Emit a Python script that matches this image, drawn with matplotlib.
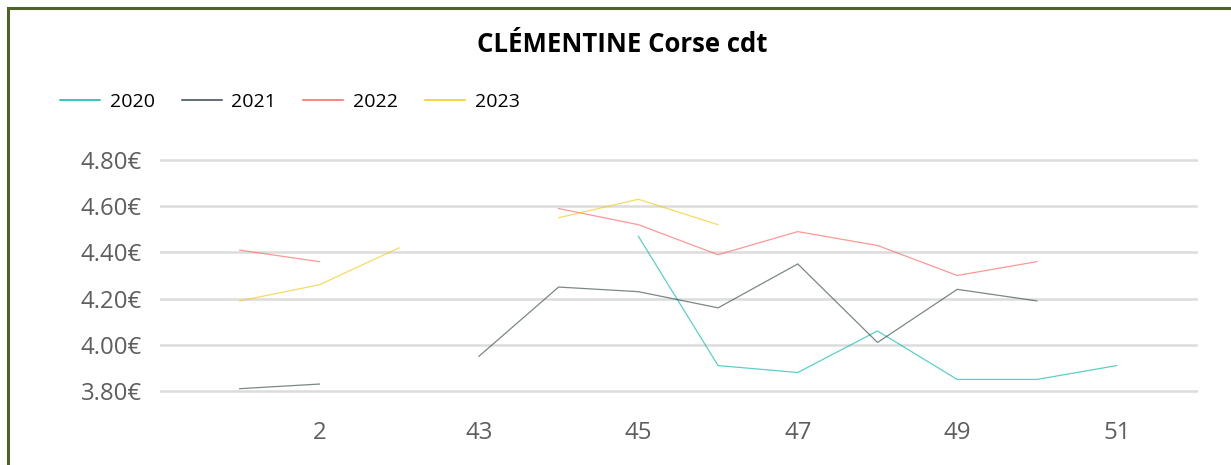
import matplotlib
matplotlib.use("Agg")
import matplotlib.pyplot as plt
from matplotlib.lines import Line2D
from matplotlib.patches import Rectangle
import numpy as np

weeks = ["1", "2", "3", "43", "44", "45", "46", "47", "48", "49", "50", "51"]
nan = np.nan
s2020 = [nan, nan, nan, nan, nan, 4.47, 3.91, 3.88, 4.06, 3.85, 3.85, 3.91]
s2021 = [3.81, 3.83, nan, 3.95, 4.25, 4.23, 4.16, 4.35, 4.01, 4.24, 4.19, nan]
s2022 = [4.41, 4.36, nan, nan, 4.59, 4.52, 4.39, 4.49, 4.43, 4.30, 4.36, nan]
s2023 = [4.19, 4.26, 4.42, nan, 4.55, 4.63, 4.52, nan, nan, nan, nan, nan]
series_names = ["2020", "2021", "2022", "2023"]
series_values = [s2020, s2021, s2022, s2023]
colors = ["#01B8AA", "#374649", "#FD625E", "#F2C80F"]
yticks = [3.80, 4.00, 4.20, 4.40, 4.60, 4.80]

W, H = 1231, 465
fig = plt.figure(figsize=(W / 100, H / 100), dpi=100)
plt.rcParams['font.family'] = ['Open Sans', 'DejaVu Sans']

# frame border
fig.patches.append(Rectangle((8 / W, -0.1), 1.2, 1 - 8 / H + 0.1, transform=fig.transFigure,
                             fill=False, edgecolor="#4F6228", linewidth=2.2))

ax_left, ax_right = 160, 1198
y_top_px, y_bot_px = 155.4, 395.6
ax = fig.add_axes([ax_left / W, 1 - y_bot_px / H, (ax_right - ax_left) / W, (y_bot_px - y_top_px) / H])
ax.set_facecolor("none")

x = np.arange(len(weeks))
for name, vals, c in zip(series_names, series_values, colors):
    ax.plot(x, vals, color=c, lw=0.9, alpha=0.65, solid_joinstyle="miter")

ax.set_xlim(-1.0, 12.02)
ax.set_ylim(3.78, 4.82)
ax.set_yticks(yticks)
ax.set_yticklabels([f"{v:.2f}€" for v in yticks])
ax.set_xticks(x[1::2])
ax.set_xticklabels([weeks[i] for i in x[1::2]])
ax.grid(axis="y", color="#DCDCDC", lw=1.8)
ax.set_axisbelow(True)
for s in ax.spines.values():
    s.set_visible(False)
ax.tick_params(axis="both", length=0, labelsize=17.3, labelcolor="#605E5C")
ax.tick_params(axis="y", pad=13)
ax.tick_params(axis="x", pad=18)

fig.text(622 / W, 1 - 44 / H, "CLÉMENTINE Corse cdt", ha="center", va="center",
         fontsize=18.5, fontweight="bold", color="#000000")

handles = [Line2D([0], [0], color=c, lw=1.1) for c in colors]
fig.legend(handles, series_names, loc="center left", bbox_to_anchor=(60 / W, 1 - 102 / H),
           ncol=4, frameon=False, fontsize=14, handlelength=2.05, handletextpad=0.5,
           columnspacing=1.4, borderaxespad=0, borderpad=0)

fig.savefig("out.png", dpi=100)
